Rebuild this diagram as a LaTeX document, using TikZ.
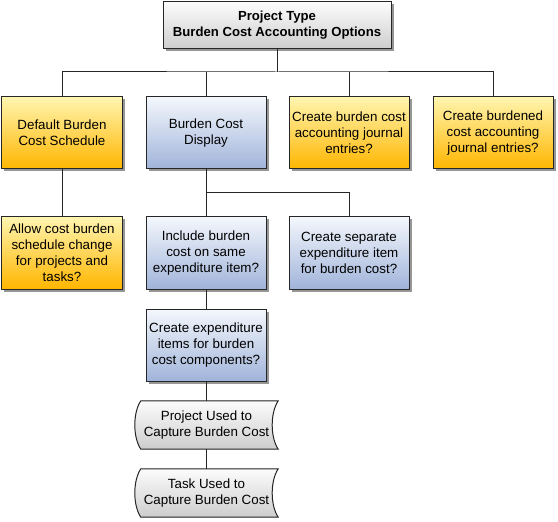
\documentclass[tikz,border=0pt]{standalone}
\usepackage{fontspec}
\setmainfont{Liberation Sans}
\usetikzlibrary{shadows,calc}
\definecolor{yelT}{RGB}{255,245,175}
\definecolor{yelB}{RGB}{255,182,0}
\definecolor{bluT}{RGB}{244,247,252}
\definecolor{bluB}{RGB}{160,180,218}
\definecolor{gryT}{RGB}{252,252,252}
\definecolor{gryB}{RGB}{205,205,205}
\definecolor{shad}{RGB}{150,150,150}
\tikzset{
  base/.style={draw=black!85, line width=1bp, align=center, inner sep=2bp,
    font=\fontsize{13.4}{16}\selectfont,
    drop shadow={shadow xshift=2.5bp, shadow yshift=-2.5bp, fill=shad, opacity=1}},
  ybox/.style={base, top color=yelT, bottom color=yelB, minimum width=120bp, minimum height=72bp},
  bbox/.style={base, top color=bluT, bottom color=bluB, minimum width=120bp, minimum height=72bp},
  gbox/.style={base, top color=gryT, bottom color=gryB, minimum width=228bp, minimum height=47bp, font=\fontsize{13.2}{16}\selectfont\bfseries},
  doc/.style={minimum width=143bp, minimum height=48bp, align=center, inner sep=0pt, font=\fontsize{13.4}{16}\selectfont},
  conn/.style={draw=black!85, line width=1bp},
}
\newcommand\storedpath[1]{%
  ($(#1.north west)+(6,0)$) -- ($(#1.north east)$)
  .. controls ($(#1.north east)+(-8,12)$) and ($(#1.south east)+(-8,-12)$) .. ($(#1.south east)$)
  -- ($(#1.south west)+(6,0)$)
  .. controls ($(#1.south west)+(-2,-12)$) and ($(#1.north west)+(-2,12)$) .. ($(#1.north west)+(6,0)$) -- cycle}
\begin{document}
\begin{tikzpicture}[x=1bp,y=-1bp]
\useasboundingbox (0,0) rectangle (558,522);
\node[gbox] (top) at (277,25.5) {Project Type\\Burden Cost Accounting Options};
\node[ybox] (b1) at (62,133) {Default Burden\\Cost Schedule};
\node[bbox] (b2) at (206,133) {Burden Cost\\Display};
\node[ybox] (b3) at (349,133) {Create burden cost\\accounting journal\\entries?};
\node[ybox] (b4) at (493,133) {Create burdened\\cost accounting\\journal entries?};
\node[ybox] (c1) at (62,253) {Allow cost burden\\schedule change\\for projects and\\tasks?};
\node[bbox] (c2) at (206,253) {Include burden\\cost on same\\expenditure item?};
\node[bbox] (c3) at (349,253) {Create separate\\expenditure item\\for burden cost?};
\node[bbox] (d) at (206,345) {Create expenditure\\items for burden\\cost components?};
\node[doc] (e1) at (206.5,425) {};
\node[doc] (e2) at (206.5,493) {};
% stored data shapes
\foreach \n in {e1,e2}{
  \fill[shad] [shift={(2.5,2.5)}] \storedpath{\n};
  \shade[top color=gryT, bottom color=gryB] \storedpath{\n};
  \draw[conn] \storedpath{\n};
}
\node[doc] at (e1) {Project Used to\\Capture Burden Cost};
\node[doc] at (e2) {Task Used to\\Capture Burden Cost};
% connectors
\coordinate (h) at (277,72);
\draw[conn] (top.south) -- (h);
\draw[conn] (b1.north) |- (h) -| (b4.north);
\draw[conn] (b2.north) -- (b2.north |- h);
\draw[conn] (b3.north) -- (b3.north |- h);
\draw[conn] (b1.south) -- (c1.north);
\coordinate (h2) at (206,193);
\draw[conn] (b2.south) -- (c2.north);
\draw[conn] (h2) -| (c3.north);
\draw[conn] (c2.south) -- (d.north);
\draw[conn] (d.south) -- (d.south |- e1.north);
\draw[conn] (d.south |- e1.south) -- (d.south |- e2.north);
\end{tikzpicture}
\end{document}
